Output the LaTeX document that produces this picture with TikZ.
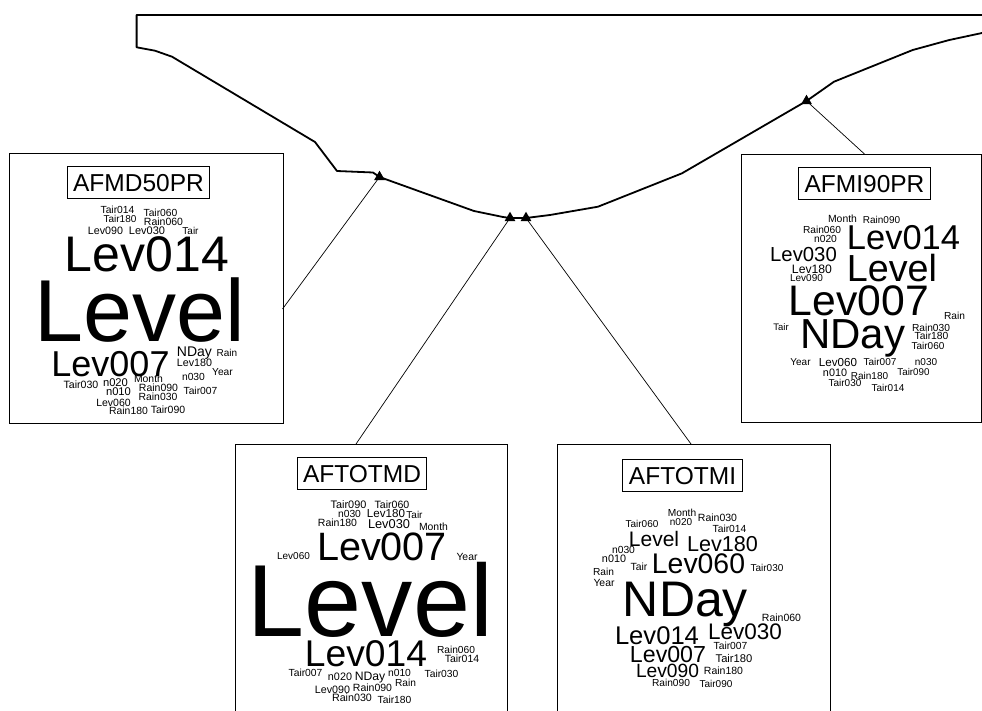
\documentclass[tikz,border=0pt]{standalone}
\usepackage{fontspec}
\setmainfont{Liberation Sans}
\usetikzlibrary{shapes.geometric}

\tikzset{
  word/.style={anchor=base, inner sep=0pt, outer sep=0pt},
  tag/.style={draw, line width=1pt, font=\fontsize{24.5}{24.5}\selectfont,
    text height=17.6pt, text depth=0pt, inner xsep=6pt, inner ysep=7.5pt},
  panel/.style={draw, line width=1pt, inner sep=0pt, anchor=north west},
  profile/.style={line width=1.8pt, line join=round},
  link/.style={line width=0.7pt},
  tipmark/.style={regular polygon, regular polygon sides=3, fill=black,
    inner sep=0pt, minimum size=12.5pt},
}

\begin{document}
\begin{tikzpicture}[x=1pt, y=-1pt]
\useasboundingbox (0,0) rectangle (982,711);

% panels
\node[panel, minimum width=273.5pt, minimum height=270.5pt] (mdbox) at (9,152.7) {};
\node[panel, minimum width=240pt, minimum height=267pt] (mibox) at (740.7,154.5) {};
\node[panel, minimum width=272pt, minimum height=290pt] (tdbox) at (235,444) {};
\node[panel, minimum width=273pt, minimum height=290pt] (tibox) at (557,444) {};

% panel titles
\node[tag] (mdtag) at (138.5,182.7) {AFMD50PR};
\node[tag] (mitag) at (864.5,183.5) {AFMI90PR};
\node[tag] (tdtag) at (362,473.5) {AFTOTMD};
\node[tag] (titag) at (682.5,475.5) {AFTOTMI};

% points on the profile
\coordinate (c1) at (379.5,177);
\coordinate (c2) at (510,218);
\coordinate (c3) at (526,218);
\coordinate (c4) at (806.5,101);

% profile line
\draw[profile] (982,15) -- (136.6,15) -- (136.6,47.3) -- (155,50.7) -- (172,56.7)
  -- (315,142) -- (337,171) -- (373,172.5) -- (c1) -- (474,211) -- (503,217)
  -- (c2) -- (c3) -- (550,215) -- (598,206.7) -- (682,173.3) -- (c4)
  -- (834,81.7) -- (912.7,50) -- (949.3,40) -- (982,33);

% markers
\node[tipmark] (t1) at (c1) {};
\node[tipmark] (t2) at (c2) {};
\node[tipmark] (t3) at (c3) {};
\node[tipmark] (t4) at (c4) {};

% connector ends on the panels
\coordinate (mdin) at (282.5,309);
\coordinate (tdin) at (356,444);
\coordinate (tiin) at (691,444);
\coordinate (miin) at (865,154.5);

\draw[link] (t1.center) -- (mdin);
\draw[link] (t2.center) -- (tdin);
\draw[link] (t3.center) -- (tiin);
\draw[link] (t4.center) -- (miin);

% word cloud AFMD50PR
\foreach \x/\y/\sz/\t [count=\i] in {
  117.5/214/10.3/Tair014, 160.5/216.5/10.3/Tair060, 120/223/10/Tair180,
  163.5/226/10.5/Rain060, 105.5/235/10.7/Lev090, 147/235/11/Lev030,
  190.5/235/10/Tair, 147/271.7/50/Lev014, 140/341.7/88/Level,
  110.5/376/36/Lev007, 194.5/356/14/NDay, 227/356.5/10/Rain,
  194.5/366.5/10.7/Lev180, 222.5/375/10.2/Year, 193.5/380/10.3/n030,
  81/388.5/10.6/Tair030, 115.5/386.7/11.2/n020, 148.5/382.7/10.4/Month,
  118.5/395/11.2/n010, 158.5/391.7/10.5/Rain090, 200.5/394/10.3/Tair007,
  113.5/406.5/10.5/Lev060, 158/400.5/10.4/Rain030, 128.5/414.5/10.4/Rain180,
  168/413/10.5/Tair090}
  \node[word, font=\fontsize{\sz}{\sz}\selectfont] (md\i) at (\x,\y) {\t};

% word cloud AFMI90PR
\foreach \x/\y/\sz/\t [count=\i] in {
  842.5/222.7/10.4/Month, 881.5/223.3/10/Rain090, 822/233.3/10.2/Rain060,
  825.5/242.7/10.3/n020, 903.5/250/34.5/Lev014, 803.5/261.7/20.3/Lev030,
  892/281.7/37.7/Level, 812/273.3/12.2/Lev180, 806.5/281.7/10/Lev090,
  859/315/42.7/Lev007, 954.5/319.3/10.2/Rain, 781/330/9.5/Tair,
  852.5/348.3/42/NDay, 931/331.7/10.2/Rain030, 931.5/339.3/10.3/Tair180,
  928/349.3/10/Tair060, 800.5/365/10/Year, 838/366.7/11.6/Lev060,
  880/365/10/Tair007, 926/365/10/n030, 835/376/10.8/n010,
  869.5/379.3/10/Rain180, 913.5/375/9.8/Tair090, 845/386.7/10/Tair030,
  888/391.7/10/Tair014}
  \node[word, font=\fontsize{\sz}{\sz}\selectfont] (mi\i) at (\x,\y) {\t};

% word cloud AFTOTMD
\foreach \x/\y/\sz/\t [count=\i] in {
  348.5/508.3/10.9/Tair090, 392/508.3/10.6/Tair060, 349.5/517.3/10.3/n030,
  386/517.3/11.6/Lev180, 414.5/518.3/10/Tair, 337.5/526/10.5/Rain180,
  389/528.3/12.8/Lev030, 433.5/530.7/10.4/Month, 382/560/39.6/Lev007,
  293.5/559/10/Lev060, 467/560/10.4/Year, 370.5/636.7/102.5/Level,
  366/666.7/37.2/Lev014, 456/653.5/10.2/Rain060, 462/662.7/10.5/Tair014,
  305.5/676/10.3/Tair007, 340/680.5/10.8/n020, 370/680.5/12.2/NDay,
  399.5/676/10.3/n010, 405.5/686/10.2/Rain, 441.5/677/10.3/Tair030,
  332.5/693/10.7/Lev090, 372.5/691/10.5/Rain090, 352/701.5/10.7/Rain030,
  394.5/703.5/10.3/Tair180}
  \node[word, font=\fontsize{\sz}{\sz}\selectfont] (td\i) at (\x,\y) {\t};

% word cloud AFTOTMI
\foreach \x/\y/\sz/\t [count=\i] in {
  682/516/10.2/Month, 681/525/10/n020, 717.5/521.7/10.5/Rain030,
  642/527.3/10/Tair060, 729.5/532.7/10.3/Tair014, 654/546/21/Level,
  722.5/551.7/21.6/Lev180, 623.5/553.3/10.3/n030, 614/562.7/10.8/n010,
  639/570/10.4/Tair, 698.5/573.3/28.4/Lev060, 767/571.7/10/Tair030,
  603.5/575/10.2/Rain, 604/586/10.4/Year, 685.5/616.7/50/NDay,
  781.5/621.7/10.5/Rain060, 657/644/25.6/Lev014, 745/639.3/22.5/Lev030,
  730.5/649.3/10.3/Tair007, 668/662.3/23.2/Lev007, 734/662.3/11.2/Tair180,
  667.5/677/19.2/Lev090, 723.5/674/10.5/Rain180, 671/686.5/10.2/Rain090,
  716/687.3/10/Tair090}
  \node[word, font=\fontsize{\sz}{\sz}\selectfont] (ti\i) at (\x,\y) {\t};

\end{tikzpicture}
\end{document}
